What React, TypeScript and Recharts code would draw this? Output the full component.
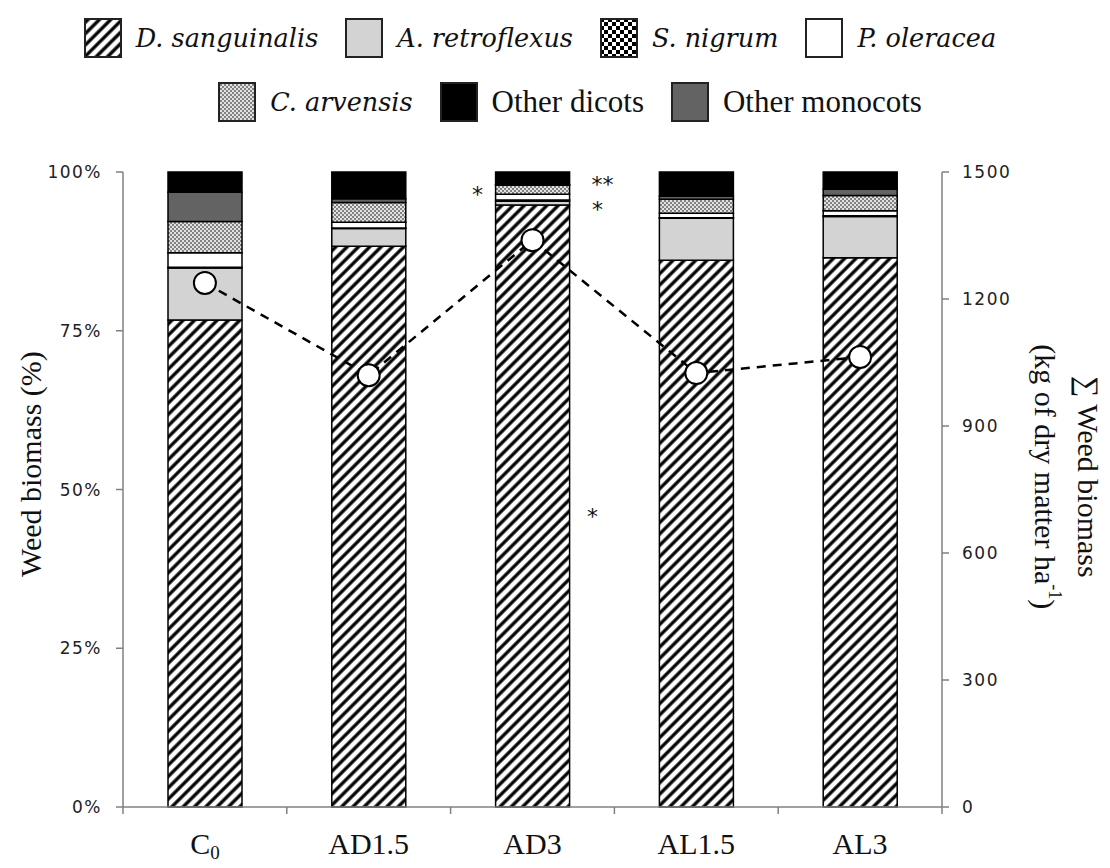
import React from 'react';
import {
  ComposedChart,
  Bar,
  Line,
  XAxis,
  YAxis,
  ReferenceDot
} from 'recharts';

// Treatments on the x axis
const categories = ['C0', 'AD1.5', 'AD3', 'AL1.5', 'AL3'];

// Share of each weed in the total biomass (%)
const dSanguinalis = [76.7, 88.3, 94.8, 86.1, 86.5];
const aRetroflexus = [8.2, 2.8, 0.6, 6.6, 6.5];
const sNigrum = [0.1, 0.1, 0.2, 0.1, 0.1];
const pOleracea = [2.3, 0.9, 0.9, 0.7, 0.8];
const cArvensis = [4.9, 3.1, 1.4, 2.2, 2.4];
const otherMonocots = [4.6, 0.6, 0.1, 0.5, 1.0];
const otherDicots = [3.2, 4.2, 2.0, 3.8, 2.7];

// Total weed biomass (kg of dry matter / ha)
const totalBiomass = [1238, 1020, 1339, 1025, 1063];

const leftTicks = [0, 25, 50, 75, 100];
const rightTicks = [0, 300, 600, 900, 1200, 1500];

// Significance marks around AD3: [percent level, horizontal shift, text]
const marks: [number, number, string][] = [
  [96.7, -55, '*'],
  [98.3, 70, '**'],
  [94.3, 65, '*'],
  [46, 60, '*']
];

const data = categories.map((name, i) => ({
  name,
  dSanguinalis: dSanguinalis[i],
  aRetroflexus: aRetroflexus[i],
  sNigrum: sNigrum[i],
  pOleracea: pOleracea[i],
  cArvensis: cArvensis[i],
  otherMonocots: otherMonocots[i],
  otherDicots: otherDicots[i],
  total: totalBiomass[i]
}));

const W = 1110;
const H = 868;
const LEFT = 123;
const RIGHT = 168;
const TOP = 172;
const BOTTOM = 61;
const PLOT_W = W - LEFT - RIGHT;

const AXIS = '#808080';
const TICK_FONT = '"DejaVu Sans", Verdana, sans-serif';
const SERIF = '"Liberation Serif", "Times New Roman", serif';

// stack order, bottom to top
const stack = [
  { key: 'dSanguinalis', fill: 'url(#hatch)' },
  { key: 'aRetroflexus', fill: '#d3d3d3' },
  { key: 'sNigrum', fill: 'url(#checker)' },
  { key: 'pOleracea', fill: '#ffffff' },
  { key: 'cArvensis', fill: 'url(#stipple)' },
  { key: 'otherMonocots', fill: '#636363' },
  { key: 'otherDicots', fill: '#000000' }
];

const legendRows = [
  [
    { label: 'D. sanguinalis', fill: 'url(#lhatch)', italic: true },
    { label: 'A. retroflexus', fill: '#d3d3d3', italic: true },
    { label: 'S. nigrum', fill: 'url(#lchecker)', italic: true },
    { label: 'P. oleracea', fill: '#ffffff', italic: true }
  ],
  [
    { label: 'C. arvensis', fill: 'url(#lstipple)', italic: true },
    { label: 'Other dicots', fill: '#000000', italic: false },
    { label: 'Other monocots', fill: '#636363', italic: false }
  ]
];

const Patterns = ({ prefix }: { prefix: string }) => (
  <defs>
    <pattern id={prefix + 'hatch'} patternUnits="userSpaceOnUse" width="8" height="8" patternTransform="rotate(45)">
      <rect width="8" height="8" fill="#fff" />
      <line x1="4" y1="-1" x2="4" y2="9" stroke="#000" strokeWidth="3.3" />
    </pattern>
    <pattern id={prefix + 'checker'} patternUnits="userSpaceOnUse" width="8" height="8">
      <rect width="8" height="8" fill="#fff" />
      <rect width="4" height="4" fill="#000" />
      <rect x="4" y="4" width="4" height="4" fill="#000" />
    </pattern>
    <pattern id={prefix + 'stipple'} patternUnits="userSpaceOnUse" width="4" height="4">
      <rect width="4" height="4" fill="#e2e2e2" />
      <circle cx="1" cy="1" r="0.9" fill="#555" />
      <circle cx="3" cy="3" r="0.9" fill="#555" />
    </pattern>
  </defs>
);

const XTick = (props: any) => {
  const { x, y, payload, index } = props;
  const band = PLOT_W / categories.length;
  const isC0 = payload.value === 'C0';
  return (
    <g>
      {index === 0 && (
        <line x1={x - band / 2} y1={y} x2={x - band / 2} y2={y + 7} stroke={AXIS} strokeWidth={1.5} />
      )}
      <line x1={x + band / 2} y1={y} x2={x + band / 2} y2={y + 7} stroke={AXIS} strokeWidth={1.5} />
      <text x={x} y={y + 47} textAnchor="middle" fontFamily={SERIF} fontSize={30} fill="#111">
        {isC0 ? (
          <>
            C<tspan fontSize={19} dy={5}>0</tspan>
          </>
        ) : (
          payload.value
        )}
      </text>
    </g>
  );
};

const Dot = (props: any) => {
  const { cx, cy } = props;
  return <circle cx={cx} cy={cy} r={11} fill="#fff" stroke="#000" strokeWidth={2} />;
};

const LeftTitle = (props: any) => {
  const { viewBox } = props;
  const cx = 31;
  const cy = viewBox.y + viewBox.height * 0.46;
  return (
    <text x={cx} y={cy} transform={`rotate(-90 ${cx} ${cy})`} textAnchor="middle" dominantBaseline="central"
      fontFamily={SERIF} fontSize={30} fill="#111">
      Weed biomass (%)
    </text>
  );
};

const RightTitle = (props: any) => {
  const { viewBox } = props;
  const cy = viewBox.y + viewBox.height * 0.48;
  const x1 = 1088;
  const x2 = 1045;
  return (
    <g fontFamily={SERIF} fontSize={30} fill="#111">
      <text x={x1} y={cy} transform={`rotate(90 ${x1} ${cy})`} textAnchor="middle" dominantBaseline="central">
        ∑ Weed biomass
      </text>
      <text x={x2} y={cy} transform={`rotate(90 ${x2} ${cy})`} textAnchor="middle" dominantBaseline="central">
        (kg of dry matter ha<tspan fontSize={18} dy={-10}>-1</tspan><tspan dy={10}>)</tspan>
      </text>
    </g>
  );
};

const Legend = () => (
  <div style={{ position: 'absolute', left: 0, top: 0, width: W, height: 140 }}>
    <svg width="0" height="0" style={{ position: 'absolute' }}>
      <Patterns prefix="l" />
    </svg>
    {legendRows.map((row, r) => (
      <div
        key={r}
        style={{
          position: 'absolute',
          left: 0,
          top: r === 0 ? 18 : 82,
          width: r === 0 ? 1080 : 1140,
          display: 'flex',
          justifyContent: 'center',
          alignItems: 'center',
          gap: 27
        }}
      >
        {row.map((item) => (
          <div key={item.label} style={{ display: 'flex', alignItems: 'center', gap: 14 }}>
            <svg width="38" height="40">
              <rect x="1" y="1" width="36" height="38" fill={item.fill} stroke="#222" strokeWidth="2" />
            </svg>
            <span
              style={
                item.italic
                  ? { fontFamily: '"DejaVu Serif", serif', fontStyle: 'italic', fontSize: 25.5, color: '#111' }
                  : { fontFamily: SERIF, fontSize: 31, color: '#111' }
              }
            >
              {item.label}
            </span>
          </div>
        ))}
      </div>
    ))}
  </div>
);

const App = () => {
  return (
    <div style={{ position: 'absolute', left: 0, top: 0, width: W, height: H, background: '#fff' }}>
      <ComposedChart
        width={W}
        height={H}
        data={data}
        margin={{ top: TOP, right: 0, bottom: 0, left: 0 }}
      >
        <Patterns prefix="" />
        <XAxis
          dataKey="name"
          height={BOTTOM}
          tickLine={false}
          tickSize={0}
          tickMargin={0}
          axisLine={{ stroke: AXIS, strokeWidth: 1.5 }}
          tick={<XTick />}
          interval={0}
        />
        <YAxis
          yAxisId="left"
          width={LEFT}
          domain={[0, 100]}
          ticks={leftTicks}
          tickFormatter={(v) => `${v}%`}
          tickSize={7}
          tickMargin={14}
          axisLine={{ stroke: AXIS, strokeWidth: 1.5 }}
          tickLine={{ stroke: AXIS, strokeWidth: 1.5 }}
          tick={{ fontFamily: TICK_FONT, fontSize: 17, fill: '#222', letterSpacing: 1.5 }}
          label={<LeftTitle />}
        />
        <YAxis
          yAxisId="right"
          orientation="right"
          width={RIGHT}
          domain={[0, 1500]}
          ticks={rightTicks}
          tickSize={7}
          tickMargin={13}
          axisLine={{ stroke: AXIS, strokeWidth: 1.5 }}
          tickLine={{ stroke: AXIS, strokeWidth: 1.5 }}
          tick={{ fontFamily: TICK_FONT, fontSize: 17, fill: '#222', letterSpacing: 1.5 }}
          label={<RightTitle />}
        />
        {stack.map((s) => (
          <Bar
            key={s.key}
            dataKey={s.key}
            yAxisId="left"
            stackId="a"
            barSize={74}
            fill={s.fill}
            stroke="#000"
            strokeWidth={1.5}
            isAnimationActive={false}
          />
        ))}
        <Line
          dataKey="total"
          yAxisId="right"
          stroke="#000"
          strokeWidth={2.5}
          strokeDasharray="9 7"
          dot={<Dot />}
          activeDot={false}
          isAnimationActive={false}
        />
        {marks.map(([level, shift, text], i) => (
          <ReferenceDot
            key={i}
            x="AD3"
            y={level}
            yAxisId="left"
            r={0}
            fill="none"
            stroke="none"
            label={(p: any) => (
              <text
                x={p.viewBox.x + shift}
                y={p.viewBox.y + 9}
                textAnchor="middle"
                fontFamily={TICK_FONT}
                fontSize={22}
                fill="#111"
              >
                {text}
              </text>
            )}
          />
        ))}
      </ComposedChart>
      <Legend />
    </div>
  );
};

export default App;
